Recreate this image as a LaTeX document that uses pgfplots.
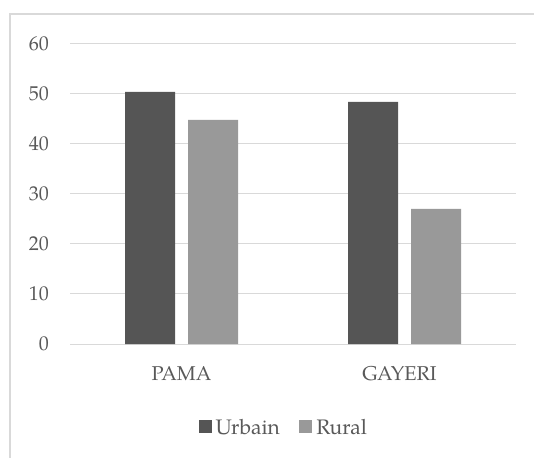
\documentclass[border=0pt]{standalone}
\usepackage{pgfplots}
\pgfplotsset{compat=1.18}
\usepackage{fontspec}
\setmainfont{TeX Gyre Pagella}
\definecolor{urb}{HTML}{555555}
\definecolor{rur}{HTML}{999999}
\definecolor{grd}{HTML}{D9D9D9}
\definecolor{txt}{HTML}{595959}
\pgfplotsset{sqleg/.style={legend image code/.code={\fill[##1,draw=none] (0pt,-5pt) rectangle (13pt,8pt);}}}
\begin{document}
\begin{tikzpicture}
\useasboundingbox (0pt,0pt) rectangle (534pt,457pt);
\draw[grd, line width=1.5pt] (10pt,-10pt) -- (10pt,443pt) -- (545pt,443pt);
\begin{axis}[
    at={(70pt,113pt)}, anchor=south west,
    scale only axis, width=446pt, height=300pt,
    ybar=13pt, bar width=50pt,
    ymin=0, ymax=60, ytick={0,10,...,60},
    xmin=-0.5, xmax=1.5, xtick={0,1}, xticklabels={PAMA,{\hspace*{-10pt}GAYERI}},
    axis line style={draw=none},
    major tick length=0pt,
    ymajorgrids, major grid style={grd, line width=1pt},
    ticklabel style={font=\fontsize{20}{24}\selectfont, text=txt, inner sep=0pt},
    yticklabel style={anchor=east, xshift=-21pt},
    xticklabel style={anchor=north, yshift=-22pt},
    /pgf/number format/assume math mode=true,
    legend style={at={(0.480,-0.28)}, anchor=center, draw=none, fill=none,
        legend columns=-1, font=\fontsize{21}{25}\selectfont, text=txt,
        nodes={inner sep=2.5pt},
        /tikz/column 1/.style={column sep=1.5pt},
        /tikz/column 2/.style={column sep=17pt},
        /tikz/column 3/.style={column sep=1.5pt}},
]
\addplot[fill=urb, draw=none, sqleg] coordinates {(0,50.4) (1,48.4)};
\addplot[fill=rur, draw=none, sqleg] coordinates {(0,44.8) (1,27.0)};
\legend{Urbain, Rural}
\end{axis}
\end{tikzpicture}
\end{document}
